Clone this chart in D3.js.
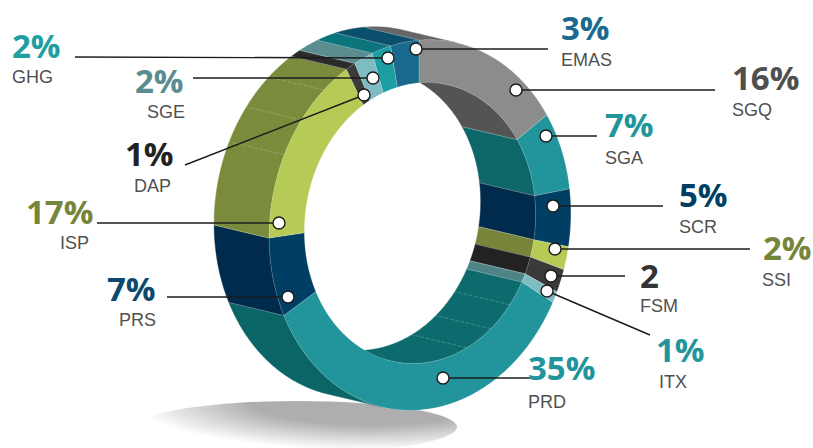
<!DOCTYPE html>
<html><head><meta charset="utf-8">
<script src="https://cdnjs.cloudflare.com/ajax/libs/d3/7.8.5/d3.min.js"></script>
<style>html,body{margin:0;padding:0;background:#fff}svg{display:block}</style>
</head><body><svg id="c" width="813" height="448"></svg>
<script>
const categories=["SGQ","SGA","SCR","SSI","FSM","ITX","PRD","PRS","ISP","DAP","SGE","GHG","EMAS"];
const values=[16,7,5,2,2,1,35,7,17,1,2,2,3];
const valueLabels=["16%","7%","5%","2%","2","1%","35%","7%","17%","1%","2%","2%","3%"];
const faceColors=["#8c8c8c","#21959b","#003f63","#b6cb56","#3a3a3a","#7dbcc3","#21959b","#003f63","#b6cb56","#3a3a3a","#7dbcc3","#1c9ea3","#1a6a8f"];
const outerWallColors=["#666666","#0d6769","#002b4d","#76853a","#222222","#5a8c90","#0b6567","#002b4d","#7a8b3b","#2b2b2b","#5a8c90","#0c757c","#0c4f6c"];
const innerWallColors=["#545454","#0d6769","#002b4d","#76853a","#222222","#4f8487","#0d6b6d","#002b4d","#7a8b3b","#2b2b2b","#5a8c90","#0c757c","#0c4f6c"];
const textColors=["#4f4f4f","#21959b","#003f63","#76853a","#333333","#21959b","#21959b","#0b4a6e","#76853a","#222222","#5a8c90","#1f9fa3","#1a6a8f"];
const isps=[.43,.63,.83], prds=[.085,.19,.30];

// label layout: [value x, value baseline, name x, name baseline, dot x, dot y, line end x, line end y]
const layout={
 GHG:[12,58,12,83,388,58,75,57],SGE:[135,93,147,118,373,78,193,78],DAP:[125,166,134,192,364,95,185,165],
 ISP:[26,224,60,249,279,223,97,223],PRS:[107,301,119,326,288,297,167,297],EMAS:[561,40,561,66,416,49,548,49],
 SGQ:[732,90,732,116,516,90,715,90],SGA:[605,137,605,164,546,136,597,136],SCR:[679,207,679,233,553,206,663,206],
 SSI:[763,260,762,286,555,249,750,249],FSM:[640,288,640,312,551,276,625,276],ITX:[656,362,659,388,547,291,650,335],
 PRD:[528,380,528,408,443,378,530,378]};

const tilt=.15, ux=Math.sin(tilt), uy=-Math.cos(tilt), rx=Math.cos(tilt), ry=Math.sin(tilt);
const ext=[-55,-13];
const outerE={cx:420,cy:225,a:186,b:150}, innerE={cx:420,cy:223,a:141,b:115};
const pt=(E,t,back)=>{const c=E.a*Math.cos(t),s=E.b*Math.sin(t);
 return [E.cx+c*ux+s*rx+(back?ext[0]:0),E.cy+c*uy+s*ry+(back?ext[1]:0)];};
const facing=(E,t)=>{const c=Math.cos(t)/E.a,s=Math.sin(t)/E.b;
 const nx=c*ux+s*rx,ny=c*uy+s*ry;return nx*ext[0]+ny*ext[1];};

const rad=d=>d*Math.PI/180;
const arcs=d3.pie().sort(null).value(d=>d).startAngle(rad(-11)).endAngle(rad(349))(values);
const samples=(a,b)=>d3.range(0,1.0001,1/Math.max(2,Math.ceil((b-a)/rad(.4)))).map(f=>a+(b-a)*f);
const line=d3.line();
const svg=d3.select("#c");

const defs=svg.append("defs");
const g=defs.append("radialGradient").attr("id","sh").attr("gradientUnits","userSpaceOnUse")
 .attr("cx",0).attr("cy",0).attr("r",1).attr("gradientTransform","translate(370,400) scale(240,50)");
g.append("stop").attr("offset",.5).attr("stop-color","#aeaeae");
g.append("stop").attr("offset",1).attr("stop-color","#ffffff");
svg.append("ellipse").attr("cx",297).attr("cy",427).attr("rx",160).attr("ry",26).attr("fill","url(#sh)");

function wall(E,sign,colors,layer){
 arcs.forEach((d,i)=>{
  const ts=samples(d.startAngle,d.endAngle).filter(t=>sign*facing(E,t)>0);
  if(ts.length<2)return;
  const P=ts.map(t=>pt(E,t,false)).concat(ts.slice().reverse().map(t=>pt(E,t,true)));
  layer.append("path").attr("d",line(P)+"Z").attr("fill",colors[i])
   .attr("stroke",colors[i]).attr("stroke-width",.4);
 });
}
wall(outerE,1,outerWallColors,svg.append("g"));
wall(innerE,-1,innerWallColors,svg.append("g"));

const edges=svg.append("g").attr("stroke","#ffffff").attr("stroke-opacity",.4).attr("stroke-width",.7);
arcs.forEach(d=>{
 [[outerE,1],[innerE,-1]].forEach(([E,s])=>{
  if(s*facing(E,d.startAngle)>0){const A=pt(E,d.startAngle,false),B=pt(E,d.startAngle,true);
   edges.append("line").attr("x1",A[0]).attr("y1",A[1]).attr("x2",B[0]).attr("y2",B[1]);}
 });
});
const seams=(idx,E,fr)=>fr.forEach(f=>{const d=arcs[idx],t=d.startAngle+(d.endAngle-d.startAngle)*f,
 A=pt(E,t,false),B=pt(E,t,true);
 edges.append("line").attr("x1",A[0]).attr("y1",A[1]).attr("x2",B[0]).attr("y2",B[1]).attr("stroke-dasharray","4 1.5").attr("stroke-opacity",.3);});
seams(categories.indexOf("ISP"),outerE,isps);
seams(categories.indexOf("PRD"),innerE,prds);

const faces=svg.append("g");
arcs.forEach((d,i)=>{
 const ts=samples(d.startAngle,d.endAngle);
 const P=ts.map(t=>pt(outerE,t)).concat(ts.slice().reverse().map(t=>pt(innerE,t)));
 faces.append("path").attr("d",line(P)+"Z").attr("fill",faceColors[i])
  .attr("stroke","#ffffff").attr("stroke-opacity",.3).attr("stroke-width",.6);
});

const lab=svg.append("g");
categories.forEach(c=>{
 const L=layout[c];
 lab.append("line").attr("x1",L[4]).attr("y1",L[5]).attr("x2",L[6]).attr("y2",L[7]).attr("stroke","#1c1c1c").attr("stroke-width",1.4);
});
categories.forEach((c,i)=>{
 const L=layout[c];
 lab.append("circle").attr("cx",L[4]).attr("cy",L[5]).attr("r",6).attr("fill","#fff").attr("stroke","#1c1c1c").attr("stroke-width",1.4);
 lab.append("text").attr("x",L[0]).attr("y",L[1]).text(valueLabels[i]).attr("fill",textColors[i])
  .style("font","700 33px 'Open Sans',sans-serif");
 lab.append("text").attr("x",L[2]).attr("y",L[3]).text(c).attr("fill","#505050")
  .style("font","400 18px 'Liberation Sans',sans-serif");
});
</script></body></html>
